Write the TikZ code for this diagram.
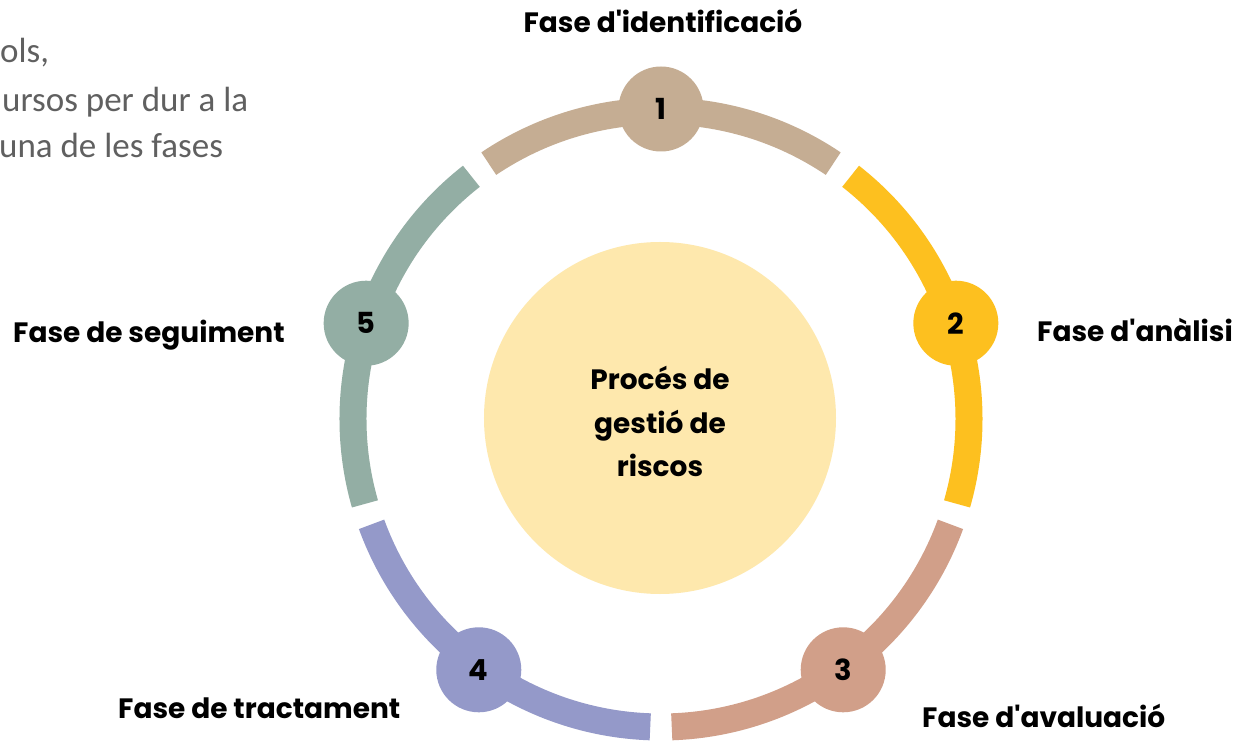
\documentclass[tikz,border=0pt]{standalone}
\usepackage{fontspec}
\newfontfamily\pop{Poppins}
\newfontfamily\calib{Carlito}
\definecolor{ctan}{HTML}{C5AD93}
\definecolor{cyellow}{HTML}{FDC01F}
\definecolor{csalmon}{HTML}{D19F89}
\definecolor{cpurple}{HTML}{9499C9}
\definecolor{cgreen}{HTML}{93AEA4}
\definecolor{ccenter}{HTML}{FEE8AD}
\definecolor{cgreytext}{HTML}{606060}
\begin{document}
\begin{tikzpicture}[x=1pt,y=1pt,
  seg/.style={line width=27pt},
  num/.style={circle, minimum size=85pt, inner sep=0pt, text=black, font=\pop\bfseries\fontsize{29}{29}\selectfont},
  lab/.style={inner sep=0pt, text=black, font=\pop\bfseries\fontsize{28}{28}\selectfont},
  note/.style={inner sep=0pt, text=cgreytext, anchor=base west, font=\calib\fontsize{35}{35}\selectfont}]
\useasboundingbox (-661,-322) rectangle (578,419);
\fill[white] (-661,-322) rectangle (578,419);
% centre disc
\node[circle, fill=ccenter, minimum size=352pt, inner sep=0pt] (core) at (-1,1) {};
\node[lab, align=center, anchor=base, font=\pop\bfseries\fontsize{28}{43.5}\selectfont] (coretext) at (-1,-58) {Procés de\\gestió de\\riscos};
% ring segments and numbered discs
\foreach \a/\c [count=\i, evaluate=\a as \s using \a-34, evaluate=\a as \e using \a+34] in {90/ctan,18/cyellow,-54/csalmon,-126/cpurple,162/cgreen} {
  \draw[seg, draw=\c] (\s:308) arc[start angle=\s, end angle=\e, radius=308];
  \node[num, fill=\c] (n\i) at (\a:310) {\i};
}
% phase labels
\node[lab, anchor=base] (l1) at (2,386) {Fase d'identificació};
\node[lab, anchor=base west] (l2) at (376,77) {Fase d'anàlisi};
\node[lab, anchor=base west] (l3) at (261,-308) {Fase d'avaluació};
\node[lab, anchor=base west] (l4) at (-543,-299) {Fase de tractament};
\node[lab, anchor=base west] (l5) at (-648,76) {Fase de seguiment};
% clipped note text at top left
\node[note] (t1) at (-661,356) {ols,};
\node[note] (t2) at (-659,307) {ursos per dur a la};
\node[note] (t3) at (-662,261) {una de les fases};
\end{tikzpicture}
\end{document}
